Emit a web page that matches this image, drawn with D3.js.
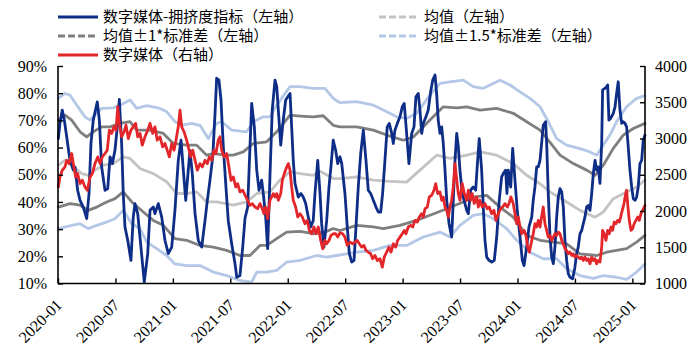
<!DOCTYPE html>
<html><head><meta charset="utf-8">
<script src="https://cdn.jsdelivr.net/npm/d3@7/dist/d3.min.js"></script>
<style>body{margin:0;background:#fff}svg{display:block}</style>
</head><body><svg id="c" width="698" height="363"></svg>
<script>
// ---- tick labels ----
const xTickYears = [2020,2020.5,2021,2021.5,2022,2022.5,2023,2023.5,2024,2024.5,2025];
const xTickLabels = ["2020-01","2020-07","2021-01","2021-07","2022-01","2022-07","2023-01","2023-07","2024-01","2024-07","2025-01"];
const leftTicks = [10,20,30,40,50,60,70,80,90];
const rightTicks = [1000,1500,2000,2500,3000,3500,4000];

// ---- 数字媒体-拥挤度指标 (left axis, %) ; time in decimal years ----
const blueT = [2020.003,2020.017,2020.037,2020.055,2020.076,2020.104,2020.133,2020.148,2020.171,2020.192,2020.220,2020.250,2020.270,2020.287,2020.307,2020.342,2020.360,2020.380,2020.409,2020.433,2020.453,2020.473,2020.496,2020.516,2020.534,2020.554,2020.568,2020.583,2020.607,2020.635,2020.655,2020.670,2020.694,2020.722,2020.751,2020.781,2020.801,2020.830,2020.844,2020.873,2020.903,2020.931,2020.960,2020.990,
2021.018,2021.047,2021.071,2021.091,2021.112,2021.134,2021.149,2021.169,2021.193,2021.221,2021.251,2021.280,2021.300,2021.323,2021.347,2021.367,2021.381,2021.401,2021.419,2021.439,2021.462,2021.482,2021.512,2021.541,2021.556,2021.584,2021.608,2021.628,2021.651,2021.686,2021.709,2021.730,2021.750,2021.773,2021.787,2021.808,2021.825,2021.845,2021.865,2021.889,2021.904,2021.918,2021.939,2021.961,2021.982,
2022.020,2022.034,2022.048,2022.063,2022.092,2022.115,2022.135,2022.156,2022.179,2022.200,2022.222,2022.237,2022.261,2022.281,2022.295,2022.315,2022.339,2022.359,2022.376,2022.396,2022.417,2022.435,2022.455,2022.470,2022.498,2022.518,2022.536,2022.557,2022.577,2022.594,2022.614,2022.635,2022.658,2022.681,2022.701,2022.722,2022.745,2022.768,2022.788,2022.809,2022.826,2022.846,2022.866,2022.884,2022.905,2022.919,2022.933,2022.954,2022.977,2022.997,
2023.014,2023.035,2023.055,2023.079,2023.099,2023.116,2023.136,2023.151,2023.166,2023.180,2023.203,2023.223,2023.244,2023.262,2023.282,2023.296,2023.310,2023.325,2023.340,2023.354,2023.369,2023.384,2023.404,2023.427,2023.441,2023.456,2023.471,2023.485,2023.499,2023.519,2023.543,2023.558,2023.572,2023.592,2023.615,2023.636,2023.653,2023.667,2023.688,2023.702,2023.717,2023.732,2023.752,2023.775,2023.798,2023.819,2023.841,2023.862,2023.876,2023.897,2023.908,2023.920,2023.941,2023.958,2023.978,2023.998,
2024.022,2024.042,2024.057,2024.080,2024.100,2024.124,2024.137,2024.152,2024.167,2024.181,2024.196,2024.210,2024.224,2024.245,2024.254,2024.268,2024.283,2024.298,2024.312,2024.326,2024.341,2024.355,2024.370,2024.385,2024.399,2024.413,2024.428,2024.442,2024.457,2024.480,2024.500,2024.515,2024.529,2024.544,2024.559,2024.573,2024.587,2024.602,2024.616,2024.631,2024.646,2024.660,2024.675,2024.689,2024.703,2024.718,2024.733,2024.741,2024.761,2024.776,2024.785,2024.796,2024.811,2024.834,2024.849,2024.863,2024.877,2024.892,2024.907,2024.921,2024.936,2024.950,2024.964,2024.979,2024.994,
2025.008,2025.023,2025.037,2025.051,2025.066,2025.081,2025.095,2025.110];
const blueV = [63.3,68.9,73.8,70.1,63.9,55.3,51.7,52.9,44.3,40.6,38.1,33.9,43.1,61.5,70.1,76.8,70.1,52.9,44.3,44.9,56.6,54.1,59.0,67.6,77.7,61.5,43.1,30.8,25.9,18.5,34.4,39.4,35.7,23.4,10.5,21.0,36.9,38.1,35.7,39.4,34.4,25.9,21.0,23.4,
36.9,55.3,62.7,51.7,40.6,51.7,59.0,50.4,35.7,25.9,23.4,33.2,40.6,48.0,56.6,72.6,85.5,84.8,77.5,60.3,45.5,33.2,24.6,17.3,12.3,12.9,23.4,34.0,38.1,76.2,67.6,51.7,44.3,48.0,43.1,34.4,22.8,49.2,73.8,84.8,82.4,73.8,60.9,70.1,77.5,
79.9,67.6,55.3,46.8,41.8,43.1,41.8,39.4,34.4,30.8,33.2,43.1,55.3,43.1,32.0,23.4,33.2,45.5,52.9,62.7,59.0,54.1,56.6,54.1,43.1,30.8,21.0,17.9,18.5,30.8,45.5,57.8,66.4,55.3,44.3,43.1,40.6,38.1,36.3,36.3,43.1,55.3,67.6,68.9,65.2,61.5,66.4,68.9,71.3,75.0,
76.2,65.2,54.1,65.2,67.6,78.7,79.9,73.8,65.2,68.9,71.3,73.8,80.5,84.8,86.7,79.9,70.1,65.2,67.6,61.5,51.7,40.6,32.0,27.1,40.6,55.3,65.2,60.3,51.7,43.1,39.4,36.9,35.7,44.3,45.5,44.3,55.3,63.3,51.7,38.1,25.9,19.7,18.5,17.9,18.5,27.1,40.6,49.2,50.4,51.7,43.1,51.7,45.5,59.7,48.0,36.9,
27.1,18.5,16.6,23.4,30.8,34.4,40.6,45.5,52.9,52.9,55.3,61.5,68.2,69.5,61.5,43.1,27.1,19.7,17.3,23.4,34.4,41.8,44.9,43.7,38.1,25.9,18.5,13.6,12.3,11.7,16.0,21.0,23.4,28.3,29.5,32.0,34.4,38.1,38.7,36.9,43.1,50.4,55.3,51.7,52.9,46.8,61.5,81.2,81.8,82.4,83.0,70.1,70.7,72.6,75.0,79.9,84.2,73.8,68.9,69.5,68.9,67.6,60.3,51.7,45.5,
41.2,40.6,41.8,45.5,54.1,55.3,62.7,64.6];

// ---- 数字媒体 (right axis) ----
const redT = [2020.003,2020.017,2020.037,2020.061,2020.076,2020.096,2020.119,2020.133,2020.154,2020.171,2020.192,2020.212,2020.235,2020.255,2020.279,2020.299,2020.322,2020.346,2020.366,2020.386,2020.409,2020.429,2020.447,2020.467,2020.487,2020.505,2020.520,2020.534,2020.554,2020.575,2020.592,2020.612,2020.635,2020.655,2020.676,2020.694,2020.714,2020.734,2020.757,2020.781,2020.801,2020.824,2020.844,2020.864,2020.888,2020.911,2020.931,2020.951,2020.969,2020.990,
2021.010,2021.027,2021.047,2021.062,2021.077,2021.097,2021.120,2021.134,2021.155,2021.173,2021.193,2021.213,2021.236,2021.256,2021.280,2021.300,2021.317,2021.338,2021.358,2021.375,2021.395,2021.410,2021.425,2021.445,2021.468,2021.488,2021.506,2021.526,2021.547,2021.564,2021.584,2021.608,2021.628,2021.651,2021.671,2021.691,2021.715,2021.738,2021.758,2021.773,2021.793,2021.808,2021.825,2021.845,2021.860,2021.874,2021.889,2021.904,2021.918,2021.939,2021.953,2021.970,2021.991,
2022.005,2022.020,2022.034,2022.048,2022.069,2022.087,2022.107,2022.127,2022.150,2022.170,2022.188,2022.208,2022.228,2022.246,2022.266,2022.287,2022.304,2022.324,2022.339,2022.359,2022.376,2022.396,2022.417,2022.435,2022.455,2022.478,2022.498,2022.518,2022.542,2022.565,2022.585,2022.605,2022.623,2022.644,2022.664,2022.681,2022.701,2022.722,2022.739,2022.759,2022.779,2022.803,2022.823,2022.840,2022.861,2022.881,2022.899,2022.919,2022.940,2022.957,2022.977,2022.997,
2023.014,2023.029,2023.049,2023.070,2023.088,2023.108,2023.128,2023.145,2023.166,2023.180,2023.195,2023.215,2023.232,2023.253,2023.273,2023.288,2023.305,2023.325,2023.340,2023.354,2023.369,2023.384,2023.398,2023.412,2023.427,2023.441,2023.456,2023.471,2023.485,2023.499,2023.519,2023.537,2023.558,2023.572,2023.592,2023.606,2023.623,2023.645,2023.659,2023.673,2023.693,2023.717,2023.737,2023.754,2023.775,2023.795,2023.813,2023.833,2023.854,2023.871,2023.891,2023.911,2023.926,2023.943,2023.963,2023.978,2023.993,
2024.007,2024.022,2024.036,2024.057,2024.074,2024.089,2024.103,2024.124,2024.137,2024.152,2024.167,2024.181,2024.196,2024.210,2024.224,2024.239,2024.254,2024.268,2024.283,2024.298,2024.312,2024.326,2024.341,2024.355,2024.370,2024.385,2024.399,2024.413,2024.428,2024.442,2024.457,2024.472,2024.486,2024.500,2024.515,2024.529,2024.544,2024.559,2024.573,2024.587,2024.602,2024.616,2024.631,2024.646,2024.660,2024.675,2024.689,2024.703,2024.718,2024.733,2024.741,2024.755,2024.770,2024.785,2024.799,2024.814,2024.828,2024.842,2024.857,2024.872,2024.886,2024.898,2024.912,2024.927,2024.942,2024.950,2024.959,2024.973,2024.988,
2025.002,2025.016,2025.031,2025.046,2025.060,2025.075,2025.089,2025.110];
const redV = [2332,2470,2562,2608,2700,2654,2793,2654,2470,2516,2378,2424,2332,2286,2470,2516,2654,2746,2654,2746,2793,2839,3115,3070,3161,3115,3438,3208,3023,3093,3184,3000,3115,3161,3208,3023,3070,2908,3023,3115,3208,3070,3161,2977,3023,2885,2931,2839,2746,2931,
2839,2977,3161,3392,3161,3093,2977,2885,2746,2839,2700,2562,2654,2608,2700,2654,2746,2700,2839,2793,2977,3023,2839,2746,2793,2608,2424,2470,2332,2378,2263,2286,2220,2148,2078,2102,2055,2032,2102,2055,1963,2055,1894,2148,2194,2240,2194,2240,2148,2240,2424,2516,2608,
2654,2562,2332,2148,2055,1917,1963,1917,1825,1871,1733,1686,1779,1686,1779,1594,1479,1594,1548,1594,1663,1686,1686,1640,1700,1686,1640,1525,1571,1548,1571,1594,1548,1502,1525,1456,1433,1410,1341,1387,1318,1341,1225,1364,1433,1502,1433,1548,1502,1594,1640,1686,
1733,1686,1779,1802,1779,1871,1848,1917,1963,1917,2032,2055,2194,2217,2286,2378,2240,2263,2148,2194,2055,2009,1917,2055,2148,2332,2654,2424,2240,2148,2378,2240,2148,2286,2148,2240,2102,2194,2055,2148,2055,2102,2032,2055,1963,2009,1871,1963,2032,2055,2102,2055,2102,2194,2102,1963,1825,
1917,1779,1686,1733,1663,1502,1433,1594,1686,1825,1779,1871,1779,1917,2055,1825,1733,1640,1663,1594,1640,1686,1663,1709,1686,1594,1548,1479,1456,1410,1433,1387,1410,1364,1387,1364,1341,1364,1318,1364,1318,1341,1272,1364,1318,1341,1272,1318,1295,1502,1733,1686,1594,1733,1686,1779,1733,1848,1825,1871,1848,1917,2009,2102,2240,2286,2102,1871,1733,
1756,1825,1871,1917,1871,1963,2009,2078];

// ---- 均值 (left axis) ----
const meanT = [2020.003,2020.061,2020.119,2020.206,2020.264,2020.322,2020.394,2020.481,2020.568,2020.627,2020.714,2020.830,2020.946,2021.033,2021.120,2021.207,2021.294,2021.381,2021.526,2021.643,2021.730,2021.845,2021.932,2022.020,2022.107,2022.222,2022.281,2022.396,2022.455,2022.600,2022.745,2022.890,2023.035,2023.151,2023.296,2023.412,2023.558,2023.673,2023.819,2023.963,2024.080,2024.196,2024.283,2024.428,2024.544,2024.675,2024.747,2024.834,2024.950,2025.037,2025.110];
const meanV = [53.5,55.4,53.5,50.4,49.8,51.7,53.5,54.1,56.6,56.0,52.3,50.4,47.4,43.1,43.1,43.7,40.0,40.0,38.8,40.0,43.1,43.7,48.0,51.1,50.4,49.8,51.3,48.6,48.6,49.2,48.0,47.6,47.3,51.7,57.2,56.0,57.2,58.4,57.2,54.1,49.8,46.7,43.7,40.0,36.9,34.4,36.3,41.2,43.7,45.5,48.0];

// ---- 均值+1*标准差 / 均值-1*标准差 ----
const up1T = [2020.003,2020.061,2020.119,2020.192,2020.250,2020.307,2020.380,2020.453,2020.540,2020.627,2020.685,2020.801,2020.917,2021.004,2021.120,2021.207,2021.294,2021.352,2021.468,2021.526,2021.613,2021.700,2021.817,2021.904,2022.020,2022.107,2022.222,2022.309,2022.396,2022.455,2022.600,2022.745,2022.861,2023.006,2023.093,2023.238,2023.354,2023.471,2023.558,2023.673,2023.819,2023.963,2024.080,2024.196,2024.268,2024.370,2024.486,2024.602,2024.675,2024.747,2024.834,2024.921,2025.008,2025.110];
const up1V = [70.1,71.9,70.1,65.8,63.9,65.8,67.6,67.6,68.9,69.5,66.4,66.4,65.2,61.5,60.9,60.9,57.2,57.8,57.2,57.2,58.4,61.5,62.1,65.8,71.9,71.6,71.3,71.7,68.2,67.6,67.6,66.4,64.6,62.7,63.9,70.1,75.0,74.6,75.0,73.8,74.4,72.6,69.5,66.4,62.7,57.2,54.1,51.7,49.8,53.5,59.7,64.6,67.0,68.9];
const lo1T = [2020.003,2020.104,2020.192,2020.264,2020.337,2020.424,2020.496,2020.568,2020.642,2020.743,2020.830,2020.917,2021.018,2021.120,2021.236,2021.352,2021.468,2021.584,2021.671,2021.758,2021.817,2021.904,2021.991,2022.107,2022.222,2022.324,2022.396,2022.455,2022.600,2022.745,2022.832,2022.977,2023.122,2023.238,2023.384,2023.528,2023.615,2023.732,2023.848,2023.963,2024.080,2024.196,2024.312,2024.428,2024.544,2024.689,2024.776,2024.863,2024.950,2025.037,2025.110];
const lo1V = [38.1,39.4,38.8,36.9,38.1,40.0,41.2,43.7,40.0,36.3,33.2,31.4,26.5,25.9,24.0,23.4,22.2,20.3,20.3,24.0,24.0,26.5,28.9,29.2,28.3,28.9,30.2,29.5,31.4,30.8,30.2,31.4,33.2,35.1,37.5,40.0,41.8,42.4,38.1,34.4,27.7,25.9,25.2,24.6,20.9,20.3,21.5,22.2,22.8,25.2,27.7];

// ---- 均值±1.5*标准差 ----
const up15T = [2020.003,2020.061,2020.104,2020.163,2020.235,2020.279,2020.337,2020.380,2020.481,2020.540,2020.627,2020.685,2020.772,2020.888,2020.946,2021.018,2021.077,2021.164,2021.236,2021.308,2021.381,2021.425,2021.512,2021.643,2021.700,2021.787,2021.845,2021.904,2022.020,2022.107,2022.222,2022.324,2022.396,2022.455,2022.600,2022.745,2022.832,2022.948,2023.035,2023.122,2023.238,2023.325,2023.412,2023.528,2023.615,2023.702,2023.848,2023.935,2024.022,2024.109,2024.196,2024.268,2024.341,2024.428,2024.544,2024.631,2024.689,2024.747,2024.805,2024.863,2024.950,2025.037,2025.110];
const up15V = [78.1,79.9,79.3,75.6,71.3,70.1,72.6,74.4,74.6,75.6,77.5,74.4,75.4,74.4,73.2,69.5,68.2,68.9,68.2,63.3,68.9,69.5,66.4,65.8,69.5,71.3,71.3,75.6,82.4,82.4,81.8,81.8,78.1,76.5,76.9,75.6,73.8,71.3,70.7,72.6,79.3,83.6,84.2,84.8,82.4,81.8,84.8,83.0,80.5,78.1,75.0,69.5,63.3,60.9,59.6,58.4,57.2,60.9,64.6,69.5,75.0,78.1,79.1];
const lo15T = [2020.003,2020.119,2020.192,2020.264,2020.337,2020.424,2020.496,2020.568,2020.642,2020.714,2020.772,2020.859,2020.946,2021.018,2021.120,2021.236,2021.352,2021.468,2021.584,2021.686,2021.730,2021.817,2021.904,2021.991,2022.107,2022.252,2022.339,2022.426,2022.498,2022.600,2022.745,2022.890,2023.035,2023.180,2023.325,2023.412,2023.499,2023.615,2023.702,2023.789,2023.906,2023.993,2024.109,2024.224,2024.341,2024.428,2024.544,2024.660,2024.747,2024.863,2024.950,2025.037,2025.110];
const lo15V = [30.2,31.4,32.0,30.2,31.4,32.6,33.8,36.9,32.0,30.2,25.2,22.8,20.3,17.2,16.6,16.6,14.2,12.9,11.1,10.5,14.2,14.2,14.8,17.9,18.5,20.3,19.7,20.3,20.8,21.5,22.2,24.0,24.0,27.1,28.9,27.1,31.4,35.1,35.7,33.8,30.2,25.9,21.5,19.1,19.1,15.4,12.9,11.9,12.9,12.3,11.5,14.2,17.2];

// ---- legend ----
const legendItems = [
  {name:"数字媒体-拥挤度指标（左轴）", color:"#0d2d87", dash:null, col:0, row:0},
  {name:"均值（左轴）", color:"#c3c3c3", dash:"7,3", col:1, row:0},
  {name:"均值±1*标准差（左轴）", color:"#7f7f7f", dash:"7,3", col:0, row:1},
  {name:"均值±1.5*标准差（左轴）", color:"#b4c7e7", dash:"7,3", col:1, row:1},
  {name:"数字媒体（右轴）", color:"#e3262a", dash:null, col:0, row:2}
];

const svg = d3.select("#c");
const L=58, R=645, T=66, B=283.5;
const x = d3.scaleLinear().domain([2020, 2025.11]).range([L, R]);
const yL = d3.scaleLinear().domain([10, 90]).range([B, T]);
const yR = d3.scaleLinear().domain([1000, 4000]).range([B, T]);

function drawLine(ts, vs, ys, color, w){
  const data = ts.map((t,i)=>[t, vs[i]]);
  svg.append("path").datum(data)
    .attr("fill","none").attr("stroke",color).attr("stroke-width",w)
    .attr("stroke-linejoin","round").attr("stroke-linecap","round")
    .attr("d", d3.line().x(d=>x(d[0])).y(d=>ys(d[1])));
}
drawLine(up15T, up15V, yL, "#b4c7e7", 2.8);
drawLine(lo15T, lo15V, yL, "#b4c7e7", 2.8);
drawLine(up1T, up1V, yL, "#7f7f7f", 2.8);
drawLine(lo1T, lo1V, yL, "#7f7f7f", 2.8);
drawLine(meanT, meanV, yL, "#c3c3c3", 2.8);
drawLine(blueT, blueV, yL, "#0d2d87", 2.8);
drawLine(redT, redV, yR, "#e3262a", 2.8);

const serif = "'Liberation Serif','Times New Roman','DejaVu Serif',serif";
// axes
const gl = svg.append("g").attr("transform",`translate(${L},0)`)
  .call(d3.axisLeft(yL).tickValues(leftTicks).tickSize(-5).tickPadding(11).tickFormat(d=>d+"%"));
const gr = svg.append("g").attr("transform",`translate(${R},0)`)
  .call(d3.axisRight(yR).tickValues(rightTicks).tickSize(-5).tickPadding(10).tickFormat(d3.format("d")));
const gb = svg.append("g").attr("transform",`translate(0,${B})`)
  .call(d3.axisBottom(x).tickValues(xTickYears).tickSize(-5).tickFormat(""));
[gl,gr,gb].forEach(g=>{
  g.attr("font-family",serif).attr("font-size",16);
  g.select(".domain").attr("stroke","#000").attr("stroke-width",1.6);
  g.selectAll(".tick line").attr("stroke","#000").attr("stroke-width",1.4);
  g.selectAll("text").style("font-family",serif).style("font-size","16px").attr("fill","#000");
});
gl.select(".domain").attr("d",`M0,${T}V${B}`);
gr.select(".domain").attr("d",`M0,${T}V${B}`);
gb.select(".domain").attr("d",`M${L},0H${R}`);

svg.append("g").selectAll("text").data(xTickYears).join("text")
  .attr("transform",(d)=>`translate(${x(d)+5},${306}) rotate(-45)`)
  .attr("text-anchor","end")
  .style("font-family",serif).style("font-size","16px")
  .text((d,i)=>xTickLabels[i]);

// legend
const colX=[58,379], rowY=[17,36,55];
const lg = svg.append("g");
legendItems.forEach(it=>{
  const x0=colX[it.col], yy=rowY[it.row];
  const ln = lg.append("line").attr("x1",x0).attr("x2",x0+40).attr("y1",yy).attr("y2",yy)
    .attr("stroke",it.color).attr("stroke-width",3);
  if(it.dash) ln.attr("stroke-dasharray",it.dash);
  lg.append("text").attr("x",x0+45).attr("y",yy).attr("dy","0.36em")
    .style("font-family","'Noto Sans CJK SC','Microsoft YaHei',sans-serif").style("font-size","15px")
    .attr("fill","#000").text(it.name);
});
</script></body></html>
